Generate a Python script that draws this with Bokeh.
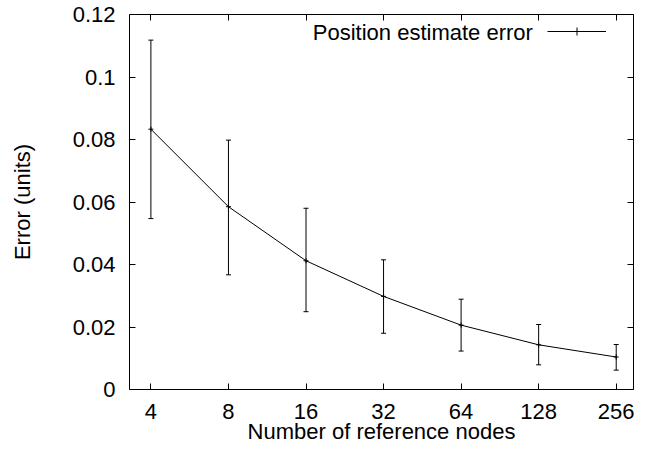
from bokeh.plotting import figure
from bokeh.models import (Range1d, FixedTicker, LinearAxis, LogAxis, ColumnDataSource,
                          Whisker, TeeHead, Label, Legend, LegendItem, BasicTickFormatter,
                          NumeralTickFormatter, CustomJSTickFormatter)
from bokeh.embed import file_html
from bokeh.resources import INLINE

# ---- data ----
nodes = [4, 8, 16, 32, 64, 128, 256]
error = [0.0833, 0.0585, 0.0412, 0.0298, 0.0206, 0.0143, 0.0104]
err_upper = [0.1118, 0.0798, 0.0580, 0.0415, 0.0289, 0.0208, 0.0144]
err_lower = [0.0547, 0.0367, 0.0249, 0.0180, 0.0123, 0.0079, 0.0062]
y_ticks = [0, 0.02, 0.04, 0.06, 0.08, 0.1, 0.12]
series_name = "Position estimate error"
x_title = "Number of reference nodes"
y_title = "Error (units)"

FONT = "Liberation Sans"
FSIZE = "22px"

p = figure(width=642, height=452, output_backend="svg", toolbar_location=None,
           x_axis_type="log", x_range=Range1d(2 ** 1.724, 2 ** 8.223),
           y_range=Range1d(0, 0.12),
           min_border_left=129, min_border_right=9, min_border_top=14,
           min_border_bottom=63)
p.outline_line_color = "black"
p.outline_line_width = 1
p.outline_line_alpha = 1
p.background_fill_color = "white"
p.border_fill_color = "white"
p.xgrid.grid_line_color = None
p.ygrid.grid_line_color = None

xa = p.xaxis[0]
ya = p.yaxis[0]
xa.ticker = FixedTicker(ticks=nodes)
xa.formatter = BasicTickFormatter()
ya.ticker = FixedTicker(ticks=y_ticks)
ya.formatter = NumeralTickFormatter(format="0.[00]")
xa.axis_label = x_title
ya.axis_label = y_title

for ax in (xa, ya):
    ax.axis_line_color = None
    ax.major_tick_in = 6
    ax.major_tick_out = 0
    ax.minor_tick_in = 0
    ax.minor_tick_out = 0
    ax.major_tick_line_color = "black"
    ax.major_label_text_font = FONT
    ax.major_label_text_font_size = FSIZE
    ax.major_label_text_color = "black"
    ax.axis_label_text_font = FONT
    ax.axis_label_text_font_size = FSIZE
    ax.axis_label_text_font_style = "normal"
    ax.axis_label_text_color = "black"

xa.major_label_standoff = 14
xa.axis_label_standoff = -3
ya.major_label_standoff = 14
ya.axis_label_standoff = 35

# mirror ticks (top and right), no labels
blank = CustomJSTickFormatter(code="return '';")
top = LogAxis(ticker=FixedTicker(ticks=nodes), formatter=blank)
right = LinearAxis(ticker=FixedTicker(ticks=y_ticks), formatter=blank)
for ax in (top, right):
    ax.axis_line_color = None
    ax.major_tick_in = 6
    ax.major_tick_out = 0
    ax.minor_tick_in = 0
    ax.minor_tick_out = 0
    ax.major_tick_line_color = "black"
    ax.major_label_standoff = 0
p.add_layout(top, "above")
p.add_layout(right, "right")

src = ColumnDataSource(dict(nodes=nodes, error=error, upper=err_upper, lower=err_lower))

whisk = Whisker(base="nodes", upper="upper", lower="lower", source=src,
                dimension="height", line_color="black", line_width=1,
                upper_head=TeeHead(size=5, line_color="black", line_width=1),
                lower_head=TeeHead(size=5, line_color="black", line_width=1))
p.add_layout(whisk)

line = p.line("nodes", "error", source=src, line_color="black", line_width=1)
pts = p.scatter("nodes", "error", source=src, marker="cross", size=5,
                line_color="black", line_width=1)

legend = Legend(items=[LegendItem(label=" ", renderers=[line, pts])],
                location=(418, 348), glyph_width=59, glyph_height=20,
                padding=0, margin=0, spacing=0, label_standoff=0,
                label_width=0, label_height=0, label_text_font_size="1px",
                border_line_color=None, background_fill_color=None,
                background_fill_alpha=0)
p.add_layout(legend)

p.add_layout(Label(x=403.4, y=357.5, x_units="screen", y_units="screen",
                   text=series_name, text_align="right", text_baseline="middle",
                   text_font=FONT, text_font_size=FSIZE, text_color="black"))

open("out.html", "w").write(file_html(p, INLINE))
